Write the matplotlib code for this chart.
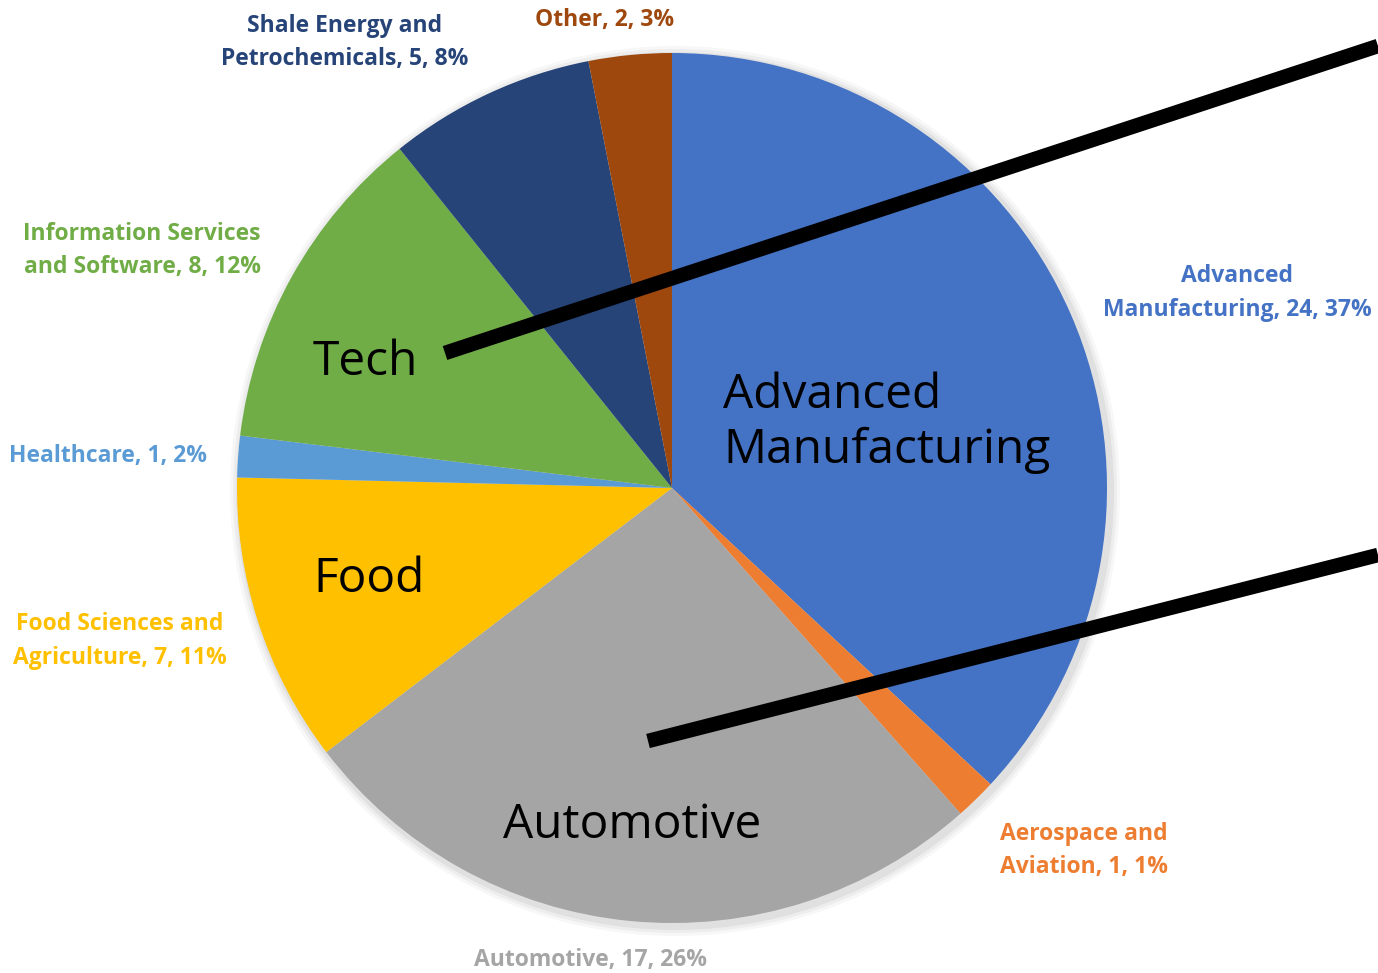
import matplotlib
matplotlib.use("Agg")
import matplotlib.pyplot as plt

categories = ["Advanced\nManufacturing", "Aerospace and\nAviation", "Automotive",
              "Food Sciences and\nAgriculture", "Healthcare", "Information Services\nand Software",
              "Shale Energy and\nPetrochemicals", "Other"]
values = [24, 1, 17, 7, 1, 8, 5, 2]
pct_labels = ["37%", "1%", "26%", "11%", "2%", "12%", "8%", "3%"]
colors = ["#4472C4", "#ED7D31", "#A5A5A5", "#FFC000", "#5B9BD5", "#70AD47", "#264478", "#9E480E"]

# label positions in pixel coords (x, y from top)
label_pos = [(1237, 293), (1084, 850), (590, 960), (120, 641), (108, 456), (142, 250), (345, 43), (605, 20)]

overlay_texts = ["Tech", "Food", "Advanced\nManufacturing", "Automotive"]
overlay_pos = [(313, 375), (313, 592), (723, 463), (632, 838)]
overlay_ha = ["left", "left", "left", "center"]

W, H = 1378, 973
fig = plt.figure(figsize=(W / 100, H / 100), dpi=100)
ax = fig.add_axes([0, 0, 1, 1])

cx, cy, r = 672, H - 488, 435
for off, a in [(10, 0.03), (7, 0.04), (4, 0.05)]:
    ax.add_patch(plt.Circle((cx + 3, cy - 3), r + off, color="black", alpha=a, lw=0, zorder=0))

ax.pie(values, colors=colors, startangle=90, counterclock=False, center=(cx, cy), radius=r,
       wedgeprops=dict(linewidth=0), frame=True)
ax.set_xlim(0, W)
ax.set_ylim(0, H)
ax.set_aspect("equal")
ax.axis("off")

for cat, v, p, c, (x, y) in zip(categories, values, pct_labels, colors, label_pos):
    ax.text(x, H - y, f"{cat}, {v}, {p}", color=c, fontsize=16.5, fontweight="bold",
            family="Open Sans", ha="center", va="center", linespacing=1.5, zorder=5)

for t, (x, y), ha in zip(overlay_texts, overlay_pos, overlay_ha):
    ax.text(x, H - y, t, color="black", fontsize=34.5, family="Open Sans", ha=ha, va="baseline",
            linespacing=1.2, zorder=6)

# black pointer lines
ax.plot([445, 1378], [H - 353, H - 46], color="black", lw=10.5, solid_capstyle="butt", zorder=7)
ax.plot([648, 1378], [H - 741, H - 555], color="black", lw=10.5, solid_capstyle="butt", zorder=7)

fig.savefig("out.png", dpi=100, facecolor="white")
